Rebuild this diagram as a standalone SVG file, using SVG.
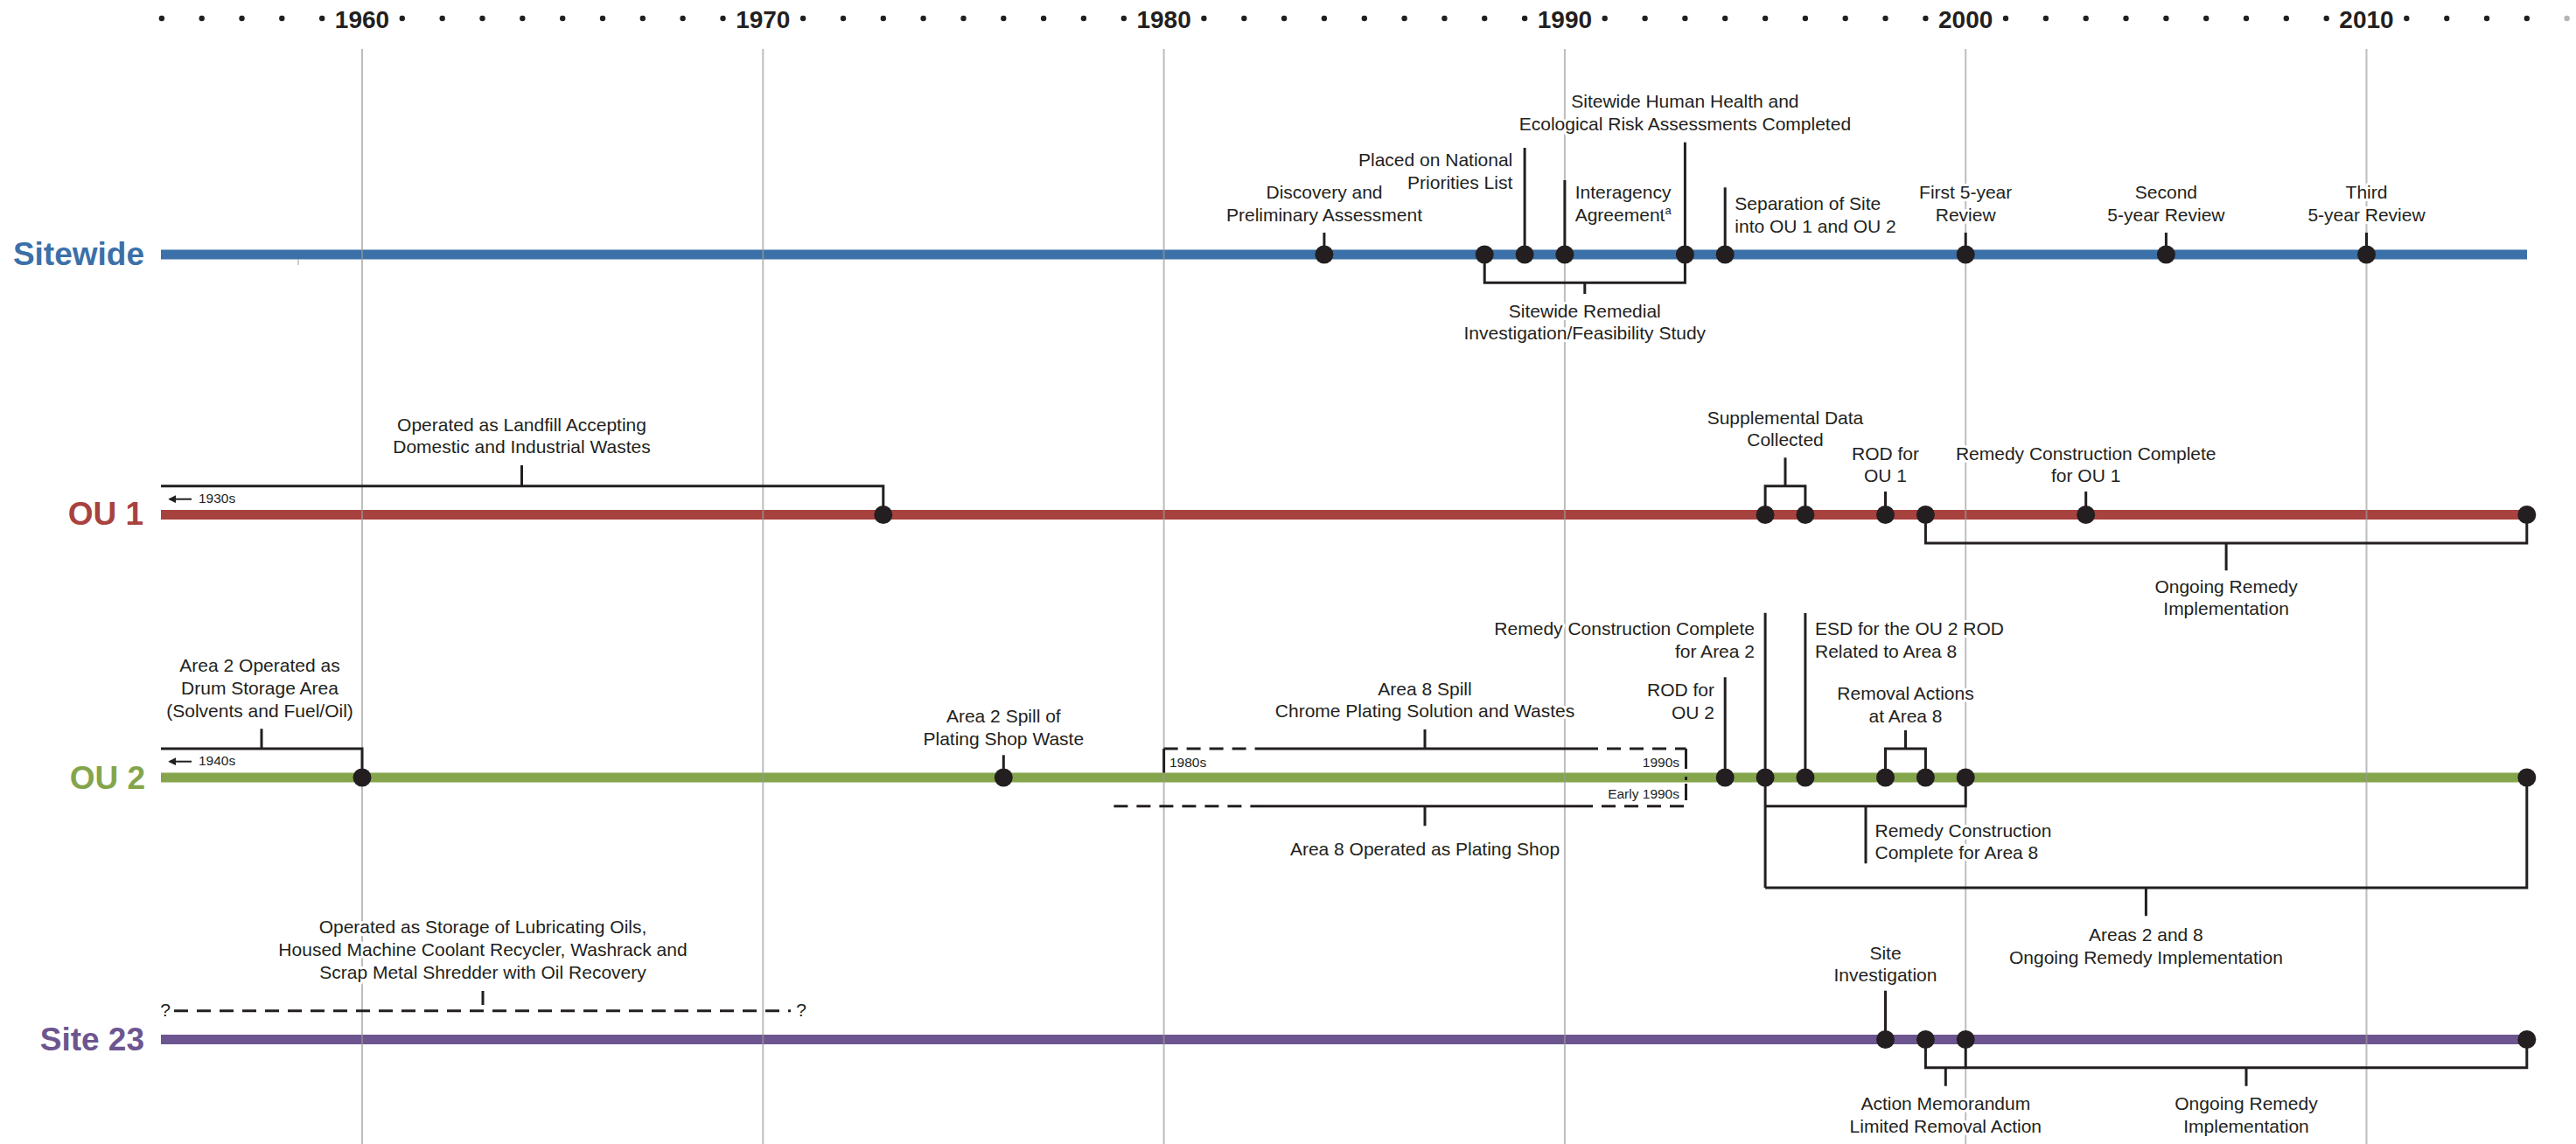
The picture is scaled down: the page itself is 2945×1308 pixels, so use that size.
<svg xmlns="http://www.w3.org/2000/svg" width="2945" height="1308" viewBox="0 0 2945 1308">
<style>
text{font-family:"Liberation Sans",Arial,Helvetica,sans-serif;fill:#231f20}
.t{font-size:21px;stroke:#fff;stroke-width:6px;stroke-linejoin:round;paint-order:stroke}
.c{text-anchor:middle}
.r{text-anchor:end}
.s{font-size:15.5px;stroke:#fff;stroke-width:4px;paint-order:stroke}
.q{font-size:21px}
.yr{font-size:28px;font-weight:bold;text-anchor:middle}
.lab{font-size:37px;font-weight:bold;text-anchor:end}
.hd{fill:#231f20}
.grid line{stroke:#9a9a9a;stroke-opacity:0.65;stroke-width:2}
.bar{stroke-width:11;fill:none}
.cn path{stroke:#231f20;stroke-width:3;fill:none}
.dash{stroke:#231f20;stroke-width:3;fill:none;stroke-dasharray:16 10}
.dot{fill:#231f20}
.cn path.arr{stroke:#231f20;stroke-width:2;fill:none}
</style>
<defs>
<marker id="ah" viewBox="0 0 10 10" refX="8" refY="5" markerWidth="4.5" markerHeight="4.5" orient="auto">
<path d="M0,0 L10,5 L0,10 Z" fill="#231f20"/>
</marker>
<circle id="d" r="10.5" class="dot"/>
</defs>
<rect width="2945" height="1308" fill="#fff"/>

<g id="header">
<g class="hd">
<circle cx="184.9" cy="21" r="3.2"/><circle cx="230.7" cy="21" r="3.2"/><circle cx="276.5" cy="21" r="3.2"/><circle cx="322.3" cy="21" r="3.2"/><circle cx="368.2" cy="21" r="3.2"/>
<circle cx="459.8" cy="21" r="3.2"/><circle cx="505.7" cy="21" r="3.2"/><circle cx="551.5" cy="21" r="3.2"/><circle cx="597.3" cy="21" r="3.2"/><circle cx="643.2" cy="21" r="3.2"/><circle cx="689" cy="21" r="3.2"/><circle cx="734.8" cy="21" r="3.2"/><circle cx="780.6" cy="21" r="3.2"/><circle cx="826.5" cy="21" r="3.2"/>
<circle cx="918.1" cy="21" r="3.2"/><circle cx="964" cy="21" r="3.2"/><circle cx="1009.8" cy="21" r="3.2"/><circle cx="1055.6" cy="21" r="3.2"/><circle cx="1101.5" cy="21" r="3.2"/><circle cx="1147.3" cy="21" r="3.2"/><circle cx="1193.1" cy="21" r="3.2"/><circle cx="1238.9" cy="21" r="3.2"/><circle cx="1284.8" cy="21" r="3.2"/>
<circle cx="1376.4" cy="21" r="3.2"/><circle cx="1422.3" cy="21" r="3.2"/><circle cx="1468.1" cy="21" r="3.2"/><circle cx="1513.9" cy="21" r="3.2"/><circle cx="1559.8" cy="21" r="3.2"/><circle cx="1605.6" cy="21" r="3.2"/><circle cx="1651.4" cy="21" r="3.2"/><circle cx="1697.2" cy="21" r="3.2"/><circle cx="1743.1" cy="21" r="3.2"/>
<circle cx="1834.7" cy="21" r="3.2"/><circle cx="1880.6" cy="21" r="3.2"/><circle cx="1926.4" cy="21" r="3.2"/><circle cx="1972.2" cy="21" r="3.2"/><circle cx="2018.1" cy="21" r="3.2"/><circle cx="2063.9" cy="21" r="3.2"/><circle cx="2109.7" cy="21" r="3.2"/><circle cx="2155.5" cy="21" r="3.2"/><circle cx="2201.4" cy="21" r="3.2"/>
<circle cx="2293" cy="21" r="3.2"/><circle cx="2338.9" cy="21" r="3.2"/><circle cx="2384.7" cy="21" r="3.2"/><circle cx="2430.5" cy="21" r="3.2"/><circle cx="2476.4" cy="21" r="3.2"/><circle cx="2522.2" cy="21" r="3.2"/><circle cx="2568" cy="21" r="3.2"/><circle cx="2613.8" cy="21" r="3.2"/><circle cx="2659.7" cy="21" r="3.2"/>
<circle cx="2751.3" cy="21" r="3.2"/><circle cx="2797.2" cy="21" r="3.2"/><circle cx="2843" cy="21" r="3.2"/><circle cx="2888.8" cy="21" r="3.2"/>
</g>
<circle cx="2934.6" cy="21" r="3.2" fill="#b5b5b5"/>
<text class="yr" x="414" y="32.3">1960</text>
<text class="yr" x="872.3" y="32.3">1970</text>
<text class="yr" x="1330.6" y="32.3">1980</text>
<text class="yr" x="1788.9" y="32.3">1990</text>
<text class="yr" x="2247.2" y="32.3">2000</text>
<text class="yr" x="2705.5" y="32.3">2010</text>
</g>

<g id="lane-sitewide">
<path class="bar" stroke="#3b70a8" d="M184 291 H2889"/>
<text class="lab" x="165" y="303" style="fill:#3b70a8">Sitewide</text>
<line x1="341" y1="296" x2="341" y2="303" stroke="#9a9a9a" stroke-width="1"/>
</g>
<g id="lane-ou1">
<path class="bar" stroke="#a8423f" d="M184 588.5 H2889"/>
<text class="lab" x="164" y="600" style="fill:#a8423f">OU 1</text>
</g>
<g id="lane-ou2">
<path class="bar" stroke="#84a54b" d="M184 889 H2889"/>
<text class="lab" x="166" y="901.5" style="fill:#84a54b">OU 2</text>
</g>
<g id="lane-site23">
<path class="bar" stroke="#6d558f" d="M184 1188.5 H2889"/>
<text class="lab" x="165" y="1200.7" style="fill:#6d558f">Site 23</text>
</g>

<g class="grid" id="gridlines">
<line x1="414" y1="56" x2="414" y2="1308"/>
<line x1="872.3" y1="56" x2="872.3" y2="1308"/>
<line x1="1330.6" y1="56" x2="1330.6" y2="1308"/>
<line x1="1788.9" y1="56" x2="1788.9" y2="1308"/>
<line x1="2247.2" y1="56" x2="2247.2" y2="1308"/>
<line x1="2705.5" y1="56" x2="2705.5" y2="1308"/>
</g>

<!-- Sitewide nodes -->
<g id="sw-discovery"><text class="t c" x="1514" y="226.7">Discovery and</text><text class="t c" x="1514" y="252.5">Preliminary Assessment</text><use href="#d" x="1513.9" y="291"/></g>
<g id="sw-npl"><text class="t r" x="1729.3" y="190">Placed on National</text><text class="t r" x="1729.3" y="215.5">Priorities List</text><use href="#d" x="1743.1" y="291"/></g>
<g id="sw-iag"><text class="t" x="1800.7" y="227.3">Interagency</text><text class="t" x="1800.7" y="253">Agreement<tspan font-size="13" dy="-8">a</tspan></text><use href="#d" x="1788.9" y="291"/></g>
<g id="sw-risk"><text class="t c" x="1926.4" y="123.3">Sitewide Human Health and</text><text class="t c" x="1926.4" y="149.3">Ecological Risk Assessments Completed</text><use href="#d" x="1926.4" y="291"/></g>
<g id="sw-separation"><text class="t" x="1983.3" y="240">Separation of Site</text><text class="t" x="1983.3" y="265.5">into OU 1 and OU 2</text><use href="#d" x="1972.2" y="291"/></g>
<g id="sw-review1"><text class="t c" x="2247.2" y="226.7">First 5-year</text><text class="t c" x="2247.2" y="252.5">Review</text><use href="#d" x="2247.2" y="291"/></g>
<g id="sw-review2"><text class="t c" x="2476.4" y="226.7">Second</text><text class="t c" x="2476.4" y="252.5">5-year Review</text><use href="#d" x="2476.4" y="291"/></g>
<g id="sw-review3"><text class="t c" x="2705.5" y="226.7">Third</text><text class="t c" x="2705.5" y="252.5">5-year Review</text><use href="#d" x="2705.5" y="291"/></g>
<g id="sw-rifs"><text class="t c" x="1811.8" y="362.7">Sitewide Remedial</text><text class="t c" x="1811.8" y="388.3">Investigation/Feasibility Study</text><use href="#d" x="1697.2" y="291"/></g>

<!-- OU 1 nodes -->
<g id="ou1-landfill"><text class="t c" x="596.5" y="492.7">Operated as Landfill Accepting</text><text class="t c" x="596.5" y="518.3">Domestic and Industrial Wastes</text><text class="s" x="227" y="575">1930s</text><use href="#d" x="1009.8" y="588.5"/></g>
<g id="ou1-supplemental"><text class="t c" x="2041" y="485">Supplemental Data</text><text class="t c" x="2041" y="510">Collected</text><use href="#d" x="2018.1" y="588.5"/><use href="#d" x="2063.9" y="588.5"/></g>
<g id="ou1-rod"><text class="t c" x="2155.5" y="525.5">ROD for</text><text class="t c" x="2155.5" y="550.5">OU 1</text><use href="#d" x="2155.5" y="588.5"/></g>
<g id="ou1-construction"><text class="t c" x="2384.7" y="525.5">Remedy Construction Complete</text><text class="t c" x="2384.7" y="550.5">for OU 1</text><use href="#d" x="2384.7" y="588.5"/></g>
<g id="ou1-ongoing"><text class="t c" x="2545.1" y="677.5">Ongoing Remedy</text><text class="t c" x="2545.1" y="703">Implementation</text><use href="#d" x="2201.4" y="588.5"/><use href="#d" x="2888.8" y="588.5"/></g>

<!-- OU 2 nodes -->
<g id="ou2-drum"><text class="t c" x="297" y="768">Area 2 Operated as</text><text class="t c" x="297" y="794">Drum Storage Area</text><text class="t c" x="297" y="820">(Solvents and Fuel/Oil)</text><text class="s" x="227" y="875.3">1940s</text><use href="#d" x="414" y="889"/></g>
<g id="ou2-spill2"><text class="t c" x="1147.3" y="826">Area 2 Spill of</text><text class="t c" x="1147.3" y="851.5">Plating Shop Waste</text><use href="#d" x="1147.3" y="889"/></g>
<g id="ou2-spill8"><text class="t c" x="1629" y="794.5">Area 8 Spill</text><text class="t c" x="1629" y="820">Chrome Plating Solution and Wastes</text><text class="s" x="1337" y="877">1980s</text><text class="s r" x="1920" y="877">1990s</text></g>
<g id="ou2-platingshop"><text class="s r" x="1920" y="912.7">Early 1990s</text><text class="t c" x="1629" y="978">Area 8 Operated as Plating Shop</text></g>
<g id="ou2-rod"><text class="t r" x="1960" y="795.7">ROD for</text><text class="t r" x="1960" y="821.5">OU 2</text><use href="#d" x="1972.2" y="889"/></g>
<g id="ou2-area2"><text class="t r" x="2006" y="725.7">Remedy Construction Complete</text><text class="t r" x="2006" y="751.7">for Area 2</text><use href="#d" x="2018.1" y="889"/></g>
<g id="ou2-esd"><text class="t" x="2075" y="725.7">ESD for the OU 2 ROD</text><text class="t" x="2075" y="751.7">Related to Area 8</text><use href="#d" x="2063.9" y="889"/></g>
<g id="ou2-removal"><text class="t c" x="2178.5" y="800">Removal Actions</text><text class="t c" x="2178.5" y="825.7">at Area 8</text><use href="#d" x="2155.5" y="889"/><use href="#d" x="2201.4" y="889"/></g>
<g id="ou2-area8"><text class="t" x="2143.5" y="956.7">Remedy Construction</text><text class="t" x="2143.5" y="981.7">Complete for Area 8</text><use href="#d" x="2247.2" y="889"/></g>
<g id="ou2-ongoing"><text class="t c" x="2453.4" y="1075.7">Areas 2 and 8</text><text class="t c" x="2453.4" y="1101.5">Ongoing Remedy Implementation</text><use href="#d" x="2888.8" y="889"/></g>

<!-- Site 23 nodes -->
<g id="s23-storage"><text class="t c" x="552" y="1066.7">Operated as Storage of Lubricating Oils,</text><text class="t c" x="552" y="1092.8">Housed Machine Coolant Recycler, Washrack and</text><text class="t c" x="552" y="1118.9">Scrap Metal Shredder with Oil Recovery</text><text class="q c" x="189" y="1162">?</text><text class="q c" x="916" y="1162">?</text></g>
<g id="s23-investigation"><text class="t c" x="2155.5" y="1096.5">Site</text><text class="t c" x="2155.5" y="1122.3">Investigation</text><use href="#d" x="2155.5" y="1188.5"/></g>
<g id="s23-action"><text class="t c" x="2224.3" y="1269">Action Memorandum</text><text class="t c" x="2224.3" y="1295">Limited Removal Action</text><use href="#d" x="2201.4" y="1188.5"/><use href="#d" x="2247.2" y="1188.5"/></g>
<g id="s23-ongoing"><text class="t c" x="2568" y="1269">Ongoing Remedy</text><text class="t c" x="2568" y="1295">Implementation</text><use href="#d" x="2888.8" y="1188.5"/></g>

<g id="connectors" class="cn">
<!-- Sitewide -->
<path d="M1513.9 266 V291"/>
<path d="M1743.1 169 V291"/>
<path d="M1788.9 206 V291"/>
<path d="M1926.4 162.7 V291"/>
<path d="M1972.2 214.3 V291"/>
<path d="M2247.2 266 V291"/>
<path d="M2476.4 266 V291"/>
<path d="M2705.5 266 V291"/>
<path d="M1697.2 291 V323.3 H1926.4 V291 M1811.8 323.3 V336"/>
<!-- OU 1 -->
<path d="M184 555.7 H1009.8 V588.5 M596.5 532 V555.7"/>
<path class="arr" d="M219 570.7 H194" marker-end="url(#ah)"/>
<path d="M2018.1 588.5 V555.7 H2063.9 V588.5 M2041 555.7 V523.3"/>
<path d="M2155.5 562 V588.5"/>
<path d="M2384.7 562 V588.5"/>
<path d="M2201.4 588.5 V621 H2888.8 V588.5 M2545.1 621 V652.3"/>
<!-- OU 2 -->
<path d="M184 856 H414 V889 M299 833.3 V856"/>
<path class="arr" d="M219 870.7 H194" marker-end="url(#ah)"/>
<path d="M1147.3 863.3 V889"/>
<path d="M1330.6 856 V883.5"/>
<path class="dash" d="M1330.6 856 H1448"/>
<path d="M1448 856 H1815"/>
<path class="dash" style="stroke-dashoffset:4" d="M1815 856 H1927.5"/>
<path d="M1927.5 856 V879 M1927.5 888 V892 M1927.5 896 V915"/>
<path class="dash" d="M1273.4 921.7 H1444"/>
<path d="M1444 921.7 H1805"/>
<path class="dash" d="M1805 921.7 H1927.5"/>
<path d="M1629 834 V856 M1629 921.7 V944.3"/>
<path d="M1972.2 774.3 V889"/>
<path d="M2018.1 700.7 V1015"/>
<path d="M2063.9 701 V889"/>
<path d="M2155.5 889 V856 H2201.4 V889 M2178.5 856 V835"/>
<path d="M2018.1 921.7 H2247.2 V889 M2133 921.7 V987.3"/>
<path d="M2018.1 1015 H2888.8 V889 M2453.4 1015 V1047.3"/>
<!-- Site 23 -->
<path class="dash" d="M199 1155.7 H904"/>
<path d="M552 1133 V1149"/>
<path d="M2155.5 1132.7 V1188.5"/>
<path d="M2201.4 1188.5 V1220.7 H2888.8 V1188.5 M2247.2 1188.5 V1220.7"/>
<path d="M2224.3 1220.7 V1241.7 M2568 1220.7 V1241.7"/>
</g>
</svg>
